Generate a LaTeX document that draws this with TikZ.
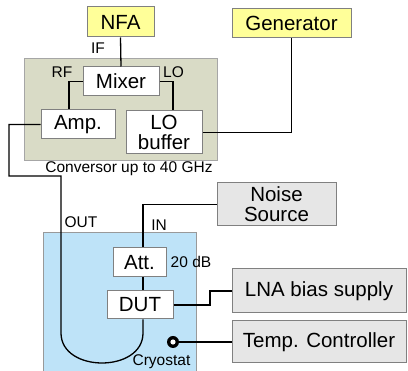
\documentclass[tikz,border=0pt]{standalone}
\usepackage{fontspec}
\setmainfont{Liberation Sans}
\newcommand\bigf{\fontsize{20.5}{21}\selectfont}
\newcommand\smf{\fontsize{15.5}{16}\selectfont}
\definecolor{convfill}{HTML}{D9DBC6}
\definecolor{cryofill}{HTML}{BEE3F8}
\definecolor{yelfill}{HTML}{FFFF99}
\definecolor{gryfill}{HTML}{E6E6E6}
\tikzset{
  blk/.style={draw=black!50, line width=1pt, inner sep=0pt, align=center, font=\bigf},
  yel/.style={blk, fill=yelfill},
  gry/.style={blk, fill=gryfill},
  wht/.style={blk, fill=white},
  wire/.style={line width=1.3pt, black},
  lbl/.style={font=\smf, inner sep=0pt},
}
\begin{document}
\begin{tikzpicture}[x=1pt,y=-1pt]
\useasboundingbox (0,0) rectangle (408,371);
% backgrounds
\node[draw=black!35, line width=1pt, fill=convfill, minimum width=193pt, minimum height=102pt] (conv) at (120.5,110) {};
\node[draw=black!40, line width=1pt, fill=cryofill, minimum width=153pt, minimum height=142pt] (cryo) at (119.5,304) {};
% boxes
\node[yel, minimum width=67pt, minimum height=30pt] (nfa) at (120.5,22) {NFA};
\node[yel, minimum width=119pt, minimum height=29pt] (gen) at (291.5,23.5) {Generator};
\node[wht, minimum width=76pt, minimum height=29pt] (mix) at (121,81.5) {Mixer};
\node[wht, minimum width=74pt, minimum height=29pt] (amp) at (78,124.5) {Amp.};
\node[wht, minimum width=76pt, minimum height=43pt, font=\fontsize{20.5}{20}\selectfont] (lob) at (164,132.5) {LO\\buffer};
\node[gry, minimum width=119pt, minimum height=43pt, font=\fontsize{20.5}{20}\selectfont] (ns) at (276.5,204.5) {Noise\\Source};
\node[wht, minimum width=53pt, minimum height=29pt] (att) at (139.5,262.5) {Att.};
\node[wht, minimum width=66pt, minimum height=28pt] (dut) at (140,305) {DUT};
\node[gry, minimum width=174pt, minimum height=44pt] (lna) at (319,291) {LNA bias supply};
\node[gry, minimum width=174pt, minimum height=42pt] (tc) at (319,342) {Temp. Controller};
\node[circle, fill=black, minimum size=12pt, inner sep=0pt] (sens) at (173,342) {};
\fill[white] (sens.center) circle (2.6pt);
% helper coordinates
\coordinate (inx) at (143,0);
\coordinate (rfx) at (69,0);
\coordinate (lox) at (173,0);
\coordinate (stepx) at (210,0);
% labels
\node[lbl] (lif) at (98,48) {IF};
\node[lbl] (lrf) at (62,72) {RF};
\node[lbl] (llo) at (173.5,72) {LO};
\node[lbl] (lconv) at (129,169) {Conversor up to 40 GHz};
\node[lbl] (lout) at (81,222) {OUT};
\node[lbl] (lin) at (159,225) {IN};
\node[lbl] (ldb) at (191,262) {20 dB};
\node[lbl] (lcry) at (161.5,362) {Cryostat};
% wires
\draw[wire] (nfa.south) -- (mix.north);
\draw[wire] (mix.west) -| (amp.north -| rfx);
\draw[wire] (mix.east) -| (lob.north -| lox);
\draw[wire] (lob.east) -| (gen.south);
\draw[wire] (amp.west) -| (9,176) -- (61,176) -- (61,333)
  .. controls (61,373) and (143,373) .. (143,333) -- (dut.south -| inx);
\draw[wire] (ns.west) -| (att.north -| inx);
\draw[wire] (att.south -| inx) -- (dut.north -| inx);
\draw[wire] (dut.east) -- (dut.east -| stepx) -- (lna.west -| stepx) -- (lna.west);
\draw[wire] (sens.east) -- (tc.west);
\end{tikzpicture}
\end{document}
